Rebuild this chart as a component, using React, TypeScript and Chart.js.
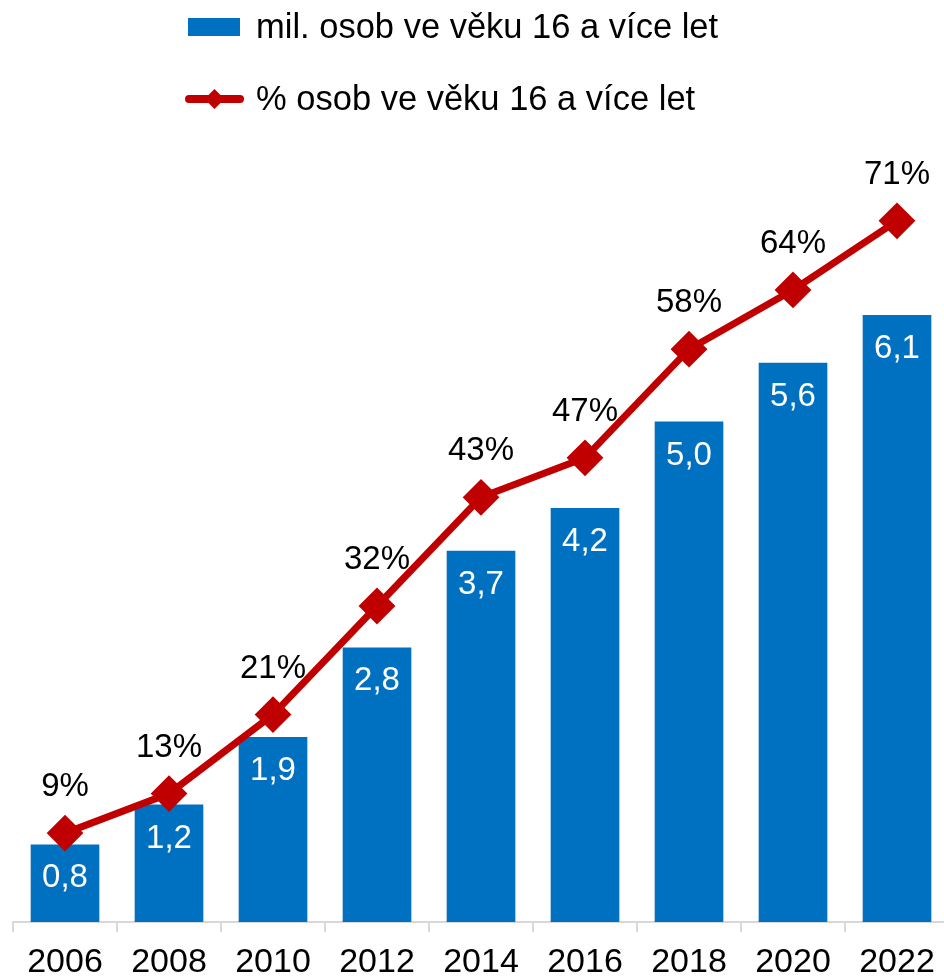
import React, { useEffect, useRef } from "react";
import { Chart, registerables } from "chart.js";

Chart.register(...registerables);

const years = ["2006", "2008", "2010", "2012", "2014", "2016", "2018", "2020", "2022"];
const millions = [0.78, 1.18, 1.86, 2.76, 3.73, 4.16, 5.03, 5.62, 6.1];
const percents = [9, 13, 21, 32, 43, 47, 58, 64, 71];
const barLabel = "mil. osob ve věku 16 a více let";
const lineLabel = "% osob ve věku 16 a více let";

const BLUE = "#0070C0";
const RED = "#C00000";
const FONT = '"Liberation Sans", Arial, Helvetica, sans-serif';

const fmt = (v: number) => v.toFixed(1).replace(".", ",");

const valueLabels = {
  id: "valueLabels",
  afterDatasetsDraw(chart: any) {
    const ctx = chart.ctx;
    ctx.save();
    ctx.textAlign = "center";
    ctx.textBaseline = "middle";
    ctx.font = `33px ${FONT}`;
    ctx.fillStyle = "#ffffff";
    chart.getDatasetMeta(0).data.forEach((el: any, i: number) => {
      ctx.fillText(fmt(millions[i]), el.x, el.y + 34);
    });
    ctx.fillStyle = "#000000";
    chart.getDatasetMeta(1).data.forEach((el: any, i: number) => {
      ctx.fillText(percents[i] + "%", el.x, el.y - 46);
    });
    ctx.restore();
  },
};

export default function App() {
  const ref = useRef<HTMLCanvasElement | null>(null);

  useEffect(() => {
    if (!ref.current) return;
    const chart = new Chart(ref.current, {
      type: "bar",
      data: {
        labels: years,
        datasets: [
          {
            type: "bar",
            label: barLabel,
            data: millions,
            backgroundColor: BLUE,
            yAxisID: "y",
            categoryPercentage: 1,
            barPercentage: 0.66,
            order: 1,
          },
          {
            type: "line",
            label: lineLabel,
            data: percents,
            borderColor: RED,
            backgroundColor: RED,
            borderWidth: 7,
            pointStyle: "rectRot",
            pointRadius: 17,
            pointBorderWidth: 2,
            pointBackgroundColor: RED,
            pointBorderColor: RED,
            yAxisID: "y2",
            order: 0,
            clip: false,
          } as any,
        ],
      },
      options: {
        responsive: false,
        animation: false,
        devicePixelRatio: 1,
        layout: { autoPadding: false, padding: { top: 126, left: 13, right: 1, bottom: 0 } },
        plugins: {
          legend: { display: false },
          tooltip: { enabled: false },
        },
        scales: {
          x: {
            grid: {
              display: true,
              drawOnChartArea: false,
              drawTicks: true,
              tickLength: 10,
              color: "#d9d9d9",
              lineWidth: 2,
              offset: true,
            },
            border: { display: true, color: "#d9d9d9", width: 2 },
            ticks: {
              color: "#000000",
              font: { family: FONT, size: 34 },
              padding: 10,
              maxRotation: 0,
              autoSkip: false,
            },
            afterFit(scale: any) {
              scale.height = 55;
            },
          },
          y: { display: false, min: 0, max: 8 },
          y2: { display: false, min: 0, max: 80.6, position: "right" },
        },
      },
      plugins: [valueLabels],
    } as any);
    return () => chart.destroy();
  }, []);

  const textStyle: React.CSSProperties = {
    position: "absolute",
    left: 256,
    fontFamily: FONT,
    fontSize: 34.5,
    lineHeight: "36px",
    color: "#000",
    whiteSpace: "nowrap",
  };

  return (
    <div
      style={{
        position: "absolute",
        left: 0,
        top: 0,
        width: 944,
        height: 977,
        overflow: "hidden",
        background: "#fff",
      }}
    >
      <canvas ref={ref} width={950} height={977} style={{ display: "block" }} />
      <div style={{ position: "absolute", left: 188, top: 18, width: 52, height: 18, background: BLUE }} />
      <div style={{ ...textStyle, top: 8 }}>{barLabel}</div>
      <svg style={{ position: "absolute", left: 184, top: 88 }} width={62} height={22}>
        <line x1={5} y1={11} x2={56} y2={11} stroke={RED} strokeWidth={8} strokeLinecap="round" />
        <polygon points="30.5,1 40.5,11 30.5,21 20.5,11" fill={RED} />
      </svg>
      <div style={{ ...textStyle, top: 80 }}>{lineLabel}</div>
    </div>
  );
}
